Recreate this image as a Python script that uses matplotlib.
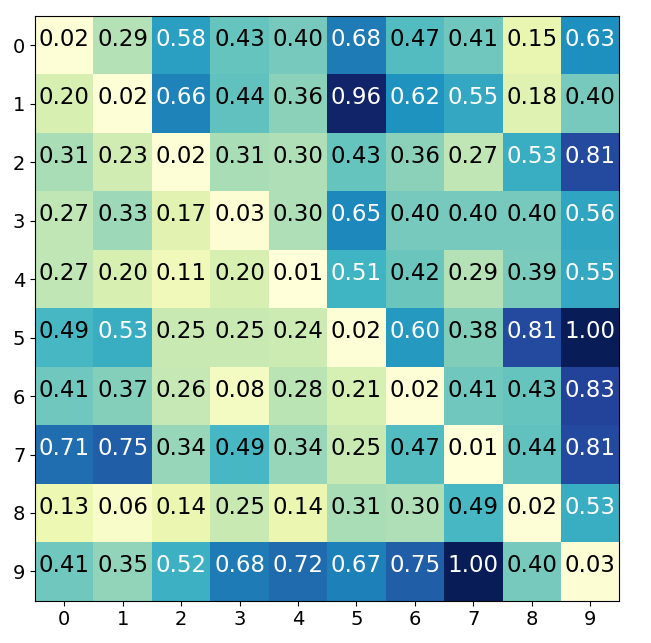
import numpy as np
import matplotlib
matplotlib.use("Agg")
import matplotlib.pyplot as plt

rows = list(range(10))
cols = list(range(10))
values = np.array([
    [0.02, 0.29, 0.58, 0.43, 0.40, 0.68, 0.47, 0.41, 0.15, 0.63],
    [0.20, 0.02, 0.66, 0.44, 0.36, 0.96, 0.62, 0.55, 0.18, 0.40],
    [0.31, 0.23, 0.02, 0.31, 0.30, 0.43, 0.36, 0.27, 0.53, 0.81],
    [0.27, 0.33, 0.17, 0.03, 0.30, 0.65, 0.40, 0.40, 0.40, 0.56],
    [0.27, 0.20, 0.11, 0.20, 0.01, 0.51, 0.42, 0.29, 0.39, 0.55],
    [0.49, 0.53, 0.25, 0.25, 0.24, 0.02, 0.60, 0.38, 0.81, 1.00],
    [0.41, 0.37, 0.26, 0.08, 0.28, 0.21, 0.02, 0.41, 0.43, 0.83],
    [0.71, 0.75, 0.34, 0.49, 0.34, 0.25, 0.47, 0.01, 0.44, 0.81],
    [0.13, 0.06, 0.14, 0.25, 0.14, 0.31, 0.30, 0.49, 0.02, 0.53],
    [0.41, 0.35, 0.52, 0.68, 0.72, 0.67, 0.75, 1.00, 0.40, 0.03],
])

fig = plt.figure(figsize=(6.51, 6.43), dpi=100)
ax = fig.add_axes([0.0538, 0.0658, 0.8975, 0.9093])
ax.imshow(values, cmap="YlGnBu", aspect="auto")
for i in range(len(rows)):
    for j in range(len(cols)):
        v = values[i, j]
        ax.text(j, i - 0.1, f"{v:.2f}", ha="center", va="center",
                color="white" if v > 0.5 else "black", fontsize=16.5)
ax.set_xticks(range(len(cols)))
ax.set_xticklabels([str(c) for c in cols], fontsize=14)
ax.set_yticks(range(len(rows)))
ax.set_yticklabels([str(r) for r in rows], fontsize=14)
fig.savefig("out.png", dpi=100)
